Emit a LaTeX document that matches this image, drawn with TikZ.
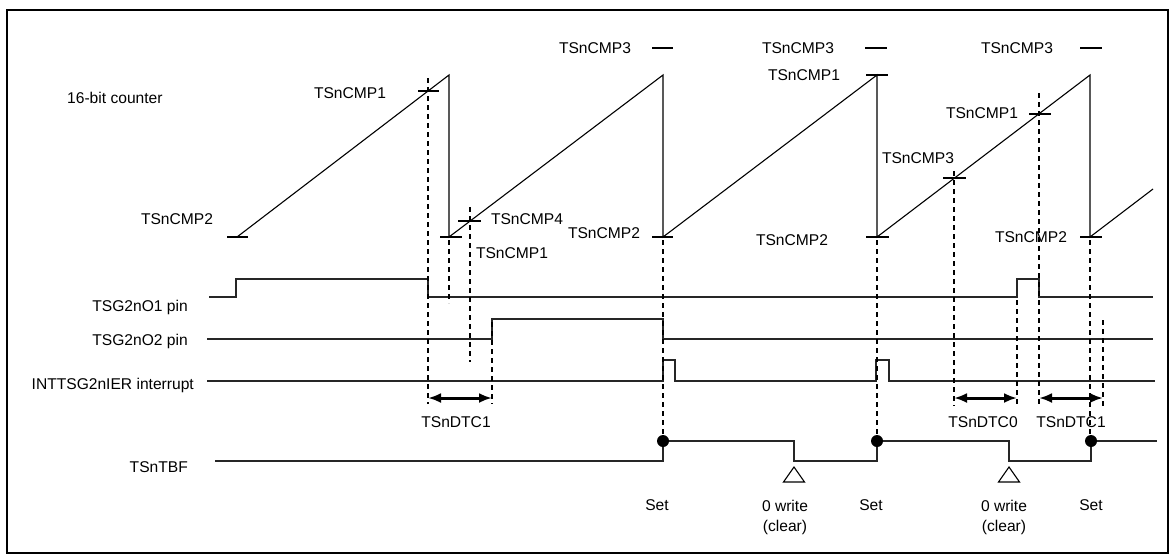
\documentclass[tikz,border=0pt]{standalone}
\usepackage{fontspec}
\setmainfont{Liberation Sans}
\usetikzlibrary{arrows.meta,shapes.geometric}
\begin{document}
\begin{tikzpicture}[x=1pt,y=-1pt,
  lbl/.style={inner sep=0pt,font=\fontsize{15.6}{18}\selectfont},
  wave/.style={line width=1.4pt,black!85},
  ramp/.style={line width=1.1pt},
  tick/.style={line width=1.1pt},
  guide/.style={line width=1.1pt,dash pattern=on 5pt off 4pt},
  span/.style={line width=3pt,{Latex[length=13pt,width=10pt]}-{Latex[length=13pt,width=10pt]}},
  dotmark/.style={circle,fill=black,inner sep=0pt,minimum size=12pt},
  clearmark/.style={line width=1.1pt}]
\useasboundingbox (0,0) rectangle (1172,558);
\draw[line width=2pt] (7,10) rectangle (1168,553);

% ---- left labels
\node[lbl,anchor=west] (lcnt) at (67,98) {16-bit counter};
\node[lbl,anchor=east] (lo1) at (188,307) {TSG2nO1 pin};
\node[lbl,anchor=east] (lo2) at (188,341) {TSG2nO2 pin};
\node[lbl,anchor=east] (lint) at (194,385) {INTTSG2nIER interrupt};
\node[lbl,anchor=east] (ltbf) at (188,467) {TSnTBF};

% ---- counter ramps
\coordinate (r0) at (237,237);
\coordinate (p1) at (449,75);  \coordinate (b1) at (449,237);
\coordinate (p2) at (663,75);  \coordinate (b2) at (663,237);
\coordinate (p3) at (877,75);  \coordinate (b3) at (877,237);
\coordinate (p4) at (1090,75); \coordinate (b4) at (1090,237);
\coordinate (r5) at (1153,189);
\draw[ramp] (r0) -- (p1) -- (b1) -- (p2) -- (b2) -- (p3) -- (b3) -- (p4) -- (b4) -- (r5);

% level ticks
\draw[tick] (227,237) -- (248,237);
\draw[tick] (440,237) -- (462,237);
\draw[tick] (652,237) -- (673,237);
\draw[tick] (866,237) -- (889,237);
\draw[tick] (1080,237) -- (1102,237);
\draw[tick] (866,75) -- (888,75);
\draw[tick] (418,91) -- (439,91);
\draw[tick] (458,221) -- (481,221);
\draw[tick] (943,178) -- (966,178);
\draw[tick] (1029,114) -- (1051,114);
\draw[tick] (652,48) -- (673,48);
\draw[tick] (865,48) -- (887,48);
\draw[tick] (1080,48) -- (1102,48);

% counter labels
\node[lbl] (c3a) at (595,48) {TSnCMP3};
\node[lbl] (c3b) at (798,48) {TSnCMP3};
\node[lbl] (c3c) at (1017,48) {TSnCMP3};
\node[lbl] (c1p) at (804,75) {TSnCMP1};
\node[lbl] (c1a) at (350,93) {TSnCMP1};
\node[lbl] (c2a) at (177,219) {TSnCMP2};
\node[lbl] (c4a) at (527,219) {TSnCMP4};
\node[lbl] (c1b) at (512,253) {TSnCMP1};
\node[lbl] (c2b) at (604,233) {TSnCMP2};
\node[lbl] (c2c) at (792,240) {TSnCMP2};
\node[lbl] (c3d) at (918,158) {TSnCMP3};
\node[lbl] (c1c) at (982,113) {TSnCMP1};
\node[lbl] (c2d) at (1031,237) {TSnCMP2};

% ---- waveforms
\draw[wave] (209,297) -- (236,297) -- (236,279) -- (428,279) -- (428,297) -- (1017,297) -- (1017,279) -- (1039,279) -- (1039,297) -- (1153,297);
\draw[wave] (207,339) -- (492,339) -- (492,319) -- (663,319) -- (663,339) -- (1153,339);
\draw[wave] (207,381) -- (663,381) -- (663,360) -- (675,360) -- (675,381) -- (876,381) -- (876,360) -- (889,360) -- (889,381) -- (1155,381);
\draw[wave] (215,461) -- (663,461) -- (663,441) -- (794,441) -- (794,461) -- (877,461) -- (877,441) -- (1009,441) -- (1009,461) -- (1091,461) -- (1091,441) -- (1157,441);

% ---- guides
\draw[guide] (428,78) -- (428,404);
\draw[guide] (449,240) -- (449,303);
\draw[guide] (470,207) -- (470,362);
\draw[guide] (492,322) -- (492,404);
\draw[guide] (663,240) -- (663,441);
\draw[guide] (877,240) -- (877,441);
\draw[guide] (954,171) -- (954,406);
\draw[guide] (1017,300) -- (1017,406);
\draw[guide] (1039,93) -- (1039,406);
\draw[guide] (1090,240) -- (1090,441);
\draw[guide] (1103,320) -- (1103,406);

% ---- spans
\coordinate (s1a) at (428,398); \coordinate (s1b) at (492,398);
\coordinate (s2a) at (954,398); \coordinate (s2b) at (1017,398);
\coordinate (s3a) at (1039,398); \coordinate (s3b) at (1103,398);
\draw[span] (s1a) -- (s1b);
\draw[span] (s2a) -- (s2b);
\draw[span] (s3a) -- (s3b);
\node[lbl] (d1) at (456,422) {TSnDTC1};
\node[lbl] (d0) at (983,422) {TSnDTC0};
\node[lbl] (d2) at (1071,422) {TSnDTC1};

% ---- TBF marks
\node[dotmark] (set1) at (663,441) {};
\node[dotmark] (set2) at (877,441) {};
\node[dotmark] (set3) at (1091,441) {};
\coordinate (clr1) at (794,467);
\coordinate (clr2) at (1009,467);
\draw[clearmark] (clr1) -- ++(10.5,15) -- ++(-21,0) -- cycle;
\draw[clearmark] (clr2) -- ++(10.5,15) -- ++(-21,0) -- cycle;
\node[lbl] (t1) at (657,505) {Set};
\node[lbl] (t2) at (871,505) {Set};
\node[lbl] (t3) at (1091,505) {Set};
\node[lbl] (w1) at (785,506) {0 write};
\node[lbl] (w1b) at (785,527) {(clear)};
\node[lbl] (w2) at (1004,506) {0 write};
\node[lbl] (w2b) at (1004,527) {(clear)};
\end{tikzpicture}
\end{document}
